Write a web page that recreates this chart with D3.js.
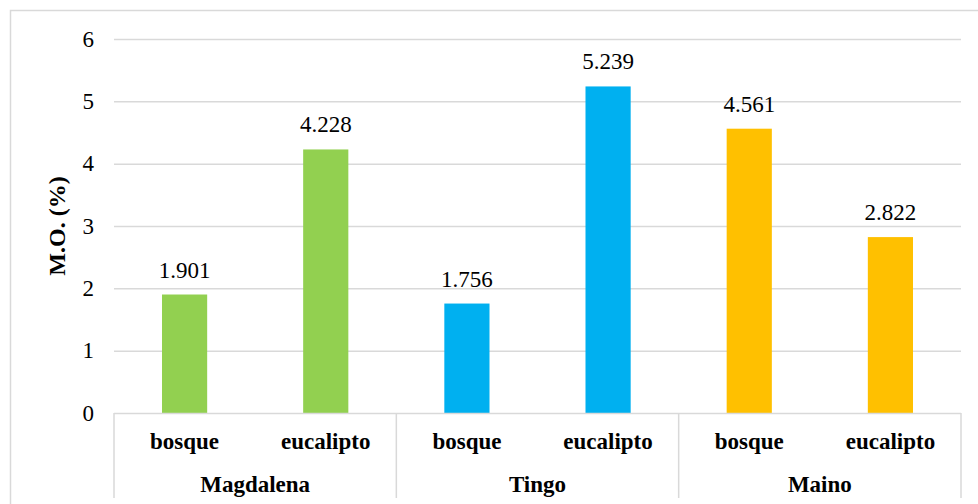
<!DOCTYPE html>
<html>
<head>
<meta charset="utf-8" />
<script src="https://cdn.jsdelivr.net/npm/d3@7"></script>
<style>
  body { margin: 0; background: #fff; }
</style>
</head>
<body>
<svg width="978" height="504" font-family="'Liberation Serif', Tinos, 'Times New Roman', Times, 'DejaVu Serif', serif"></svg>
<script>
// datos
var sitios = ["Magdalena", "Tingo", "Maino"];
var usos = ["bosque", "eucalipto"];
var bosque = [1.901, 1.756, 4.561];
var eucalipto = [4.228, 5.239, 2.822];
var colores = ["#92D050", "#00B0F0", "#FFC000"];
var ticksY = [0, 1, 2, 3, 4, 5, 6];

var svg = d3.select("svg");
var margen = {left: 114, right: 961, top: 39, bottom: 413};

// borde del grafico (cortado a la derecha y abajo)
svg.append("rect")
  .attr("x", 10.5).attr("y", 10.5)
  .attr("width", 1000).attr("height", 600)
  .attr("fill", "none").attr("stroke", "#D9D9D9").attr("stroke-width", 1.5);

var y = d3.scaleLinear().domain([0, 6]).range([margen.bottom, margen.top]);
var xGrupo = d3.scaleBand().domain(sitios).range([margen.left, margen.right]);
var xUso = d3.scaleBand().domain(usos).range([0, xGrupo.bandwidth()]).paddingInner(0.68).paddingOuter(0.34);

// lineas de cuadricula
svg.selectAll(".grid").data(ticksY.slice(1)).enter().append("line")
  .attr("x1", margen.left).attr("x2", margen.right)
  .attr("y1", function(d) { return y(d) + 0.5; })
  .attr("y2", function(d) { return y(d) + 0.5; })
  .attr("stroke", "#D9D9D9").attr("stroke-width", 1.5);

// etiquetas eje y
svg.selectAll(".ty").data(ticksY).enter().append("text")
  .attr("x", 94).attr("y", function(d) { return y(d); })
  .attr("dy", "0.34em")
  .attr("text-anchor", "end")
  .attr("font-size", 23)
  .text(function(d) { return d; });

svg.append("text")
  .attr("transform", "translate(65," + (margen.top + margen.bottom) / 2 + ") rotate(-90)")
  .attr("text-anchor", "middle")
  .attr("font-size", 24).attr("font-weight", "bold")
  .text("M.O. (%)");

// barras
var filas = [];
sitios.forEach(function(s, i) {
  filas.push({sitio: s, uso: "bosque", v: bosque[i], color: colores[i]});
  filas.push({sitio: s, uso: "eucalipto", v: eucalipto[i], color: colores[i]});
});

svg.selectAll(".barra").data(filas).enter().append("rect")
  .attr("x", function(d) { return xGrupo(d.sitio) + xUso(d.uso); })
  .attr("y", function(d) { return y(d.v); })
  .attr("width", xUso.bandwidth())
  .attr("height", function(d) { return y(0) - y(d.v); })
  .attr("fill", function(d) { return d.color; });

svg.selectAll(".valor").data(filas).enter().append("text")
  .attr("x", function(d) { return xGrupo(d.sitio) + xUso(d.uso) + xUso.bandwidth() / 2; })
  .attr("y", function(d) { return y(d.v) - 17; })
  .attr("text-anchor", "middle")
  .attr("font-size", 23)
  .text(function(d) { return d3.format(".3f")(d.v); });

// eje x de dos niveles
svg.append("line")
  .attr("x1", margen.left).attr("x2", margen.right)
  .attr("y1", margen.bottom + 0.5).attr("y2", margen.bottom + 0.5)
  .attr("stroke", "#D9D9D9").attr("stroke-width", 1.5);

var separadores = sitios.map(function(s) { return xGrupo(s); }).concat([margen.right]);
svg.selectAll(".sep").data(separadores).enter().append("line")
  .attr("x1", function(d) { return d; }).attr("x2", function(d) { return d; })
  .attr("y1", margen.bottom).attr("y2", 498)
  .attr("stroke", "#D9D9D9").attr("stroke-width", 1.5);

svg.selectAll(".cat").data(filas).enter().append("text")
  .attr("x", function(d) { return xGrupo(d.sitio) + xUso(d.uso) + xUso.bandwidth() / 2; })
  .attr("y", 449)
  .attr("text-anchor", "middle")
  .attr("font-size", 23).attr("font-weight", "bold")
  .text(function(d) { return d.uso; });

svg.selectAll(".grupo").data(sitios).enter().append("text")
  .attr("x", function(d) { return xGrupo(d) + xGrupo.bandwidth() / 2; })
  .attr("y", 492)
  .attr("text-anchor", "middle")
  .attr("font-size", 23).attr("font-weight", "bold")
  .text(function(d) { return d; });
</script>
</body>
</html>
